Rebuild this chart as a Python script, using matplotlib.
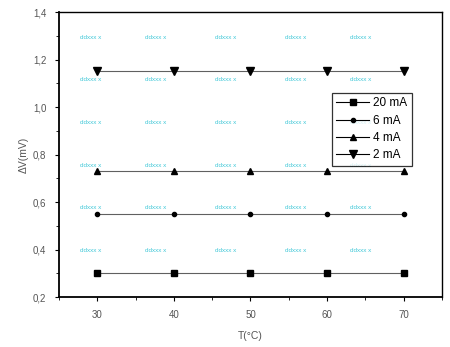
import matplotlib
matplotlib.use("Agg")
import matplotlib.pyplot as plt
from matplotlib.ticker import FuncFormatter, MultipleLocator

plt.rcParams['font.family'] = ['Liberation Sans', 'DejaVu Sans']

temps = [30, 40, 50, 60, 70]
labels = ["20 mA", "6 mA", "4 mA", "2 mA"]
v20 = [0.30, 0.30, 0.30, 0.30, 0.30]
v6 = [0.55, 0.55, 0.55, 0.55, 0.55]
v4 = [0.73, 0.73, 0.73, 0.73, 0.73]
v2 = [1.15, 1.15, 1.15, 1.15, 1.15]
series = [v20, v6, v4, v2]
markers = ['s', 'o', '^', 'v']
msizes = [4, 3, 5, 5.5]

fig = plt.figure(figsize=(4.5, 3.47), dpi=100)
ax = fig.add_axes([0.131, 0.144, 0.851, 0.821])

# faint watermark grid
wm_x = [0.055, 0.225, 0.407, 0.59, 0.76]
wm_y = [0.912, 0.765, 0.611, 0.463, 0.316, 0.165]
for yy in wm_y:
    for xx in wm_x:
        ax.text(xx, yy, "ddxxx x", transform=ax.transAxes, fontsize=4.5,
                color='#40c8d8', ha='left', va='center', zorder=1)

for vals, lab, m, ms in zip(series, labels, markers, msizes):
    ax.plot(temps, vals, color='#606060', lw=0.8, marker=m, ms=ms,
            mfc='black', mec='black', label=lab, zorder=3)

ax.set_xlim(25, 75)
ax.set_ylim(0.2, 1.4)
ax.xaxis.set_major_locator(MultipleLocator(10))
ax.xaxis.set_minor_locator(MultipleLocator(5))
ax.yaxis.set_major_locator(MultipleLocator(0.2))
ax.yaxis.set_minor_locator(MultipleLocator(0.1))
ax.yaxis.set_major_formatter(FuncFormatter(lambda v, p: f"{v:.1f}".replace('.', ',')))
ax.xaxis.set_major_formatter(FuncFormatter(lambda v, p: f"{int(v)}"))

ax.tick_params(which='major', direction='out', length=3, width=0.8,
               labelsize=7, labelcolor='#555555', pad=6)
ax.tick_params(which='minor', direction='out', length=2, width=0.6)

for s in ['left', 'bottom']:
    ax.spines[s].set_linewidth(1.3)
for s in ['top', 'right']:
    ax.spines[s].set_linewidth(1.0)

ax.set_xlabel("T(°C)", fontsize=7.5, color='#555555', labelpad=8)
ax.set_ylabel("ΔV(mV)", fontsize=7.5, color='#555555', labelpad=3)

leg = ax.legend(loc='upper right', bbox_to_anchor=(0.937, 0.738),
                frameon=True, fancybox=False, edgecolor='black',
                handlelength=2.8, handletextpad=0.3, labelspacing=0.45,
                borderpad=0.4, prop={'size': 8.5})
leg.get_frame().set_linewidth(0.9)
for h in leg.get_lines():
    h.set_color('black')

fig.savefig("out.png", dpi=100)
